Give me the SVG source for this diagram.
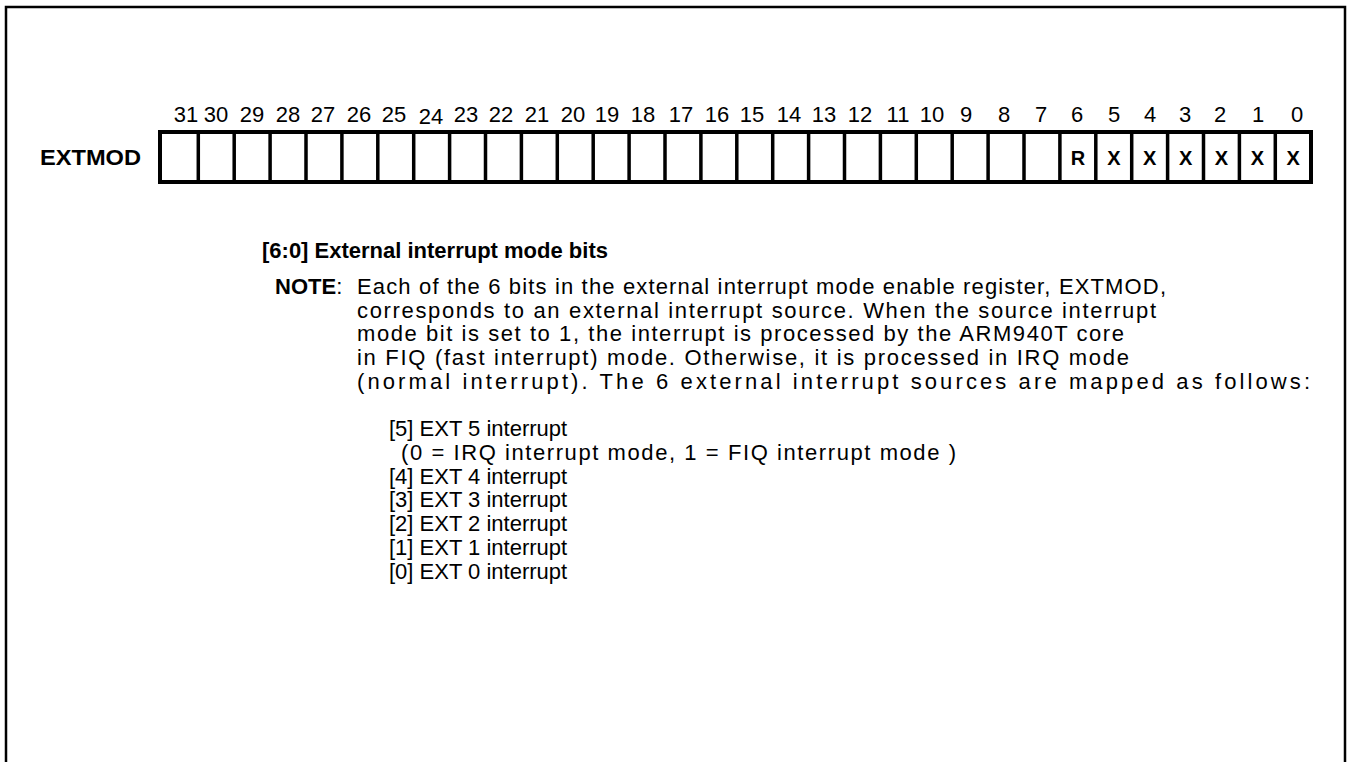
<svg xmlns="http://www.w3.org/2000/svg" width="1353" height="762" viewBox="0 0 1353 762">
<style>
.t{font-family:"Liberation Sans",Arial,sans-serif;fill:#000}
.n{font-size:22px;text-anchor:middle}
.b{font-weight:bold}
.c{font-size:20px;font-weight:bold;text-anchor:middle}
.p{font-size:22px}
.cell{fill:none;stroke:#000;stroke-width:3.5}
</style>
<rect width="1353" height="762" fill="#fff"/>
<path d="M6,762 V7 H1345 V762" fill="none" stroke="#000" stroke-width="2.5"/>
<g id="register">
<rect x="160" y="132" width="1151" height="50" fill="#fff" stroke="#000" stroke-width="4"/>
<path class="cell" d="M198.3,132V182M234.2,132V182M270.1,132V182M306,132V182M341.9,132V182M377.8,132V182M413.7,132V182M449.6,132V182M485.5,132V182M521.4,132V182M557.3,132V182M593.2,132V182M629.1,132V182M665,132V182M700.9,132V182M736.8,132V182M772.7,132V182M808.6,132V182M844.5,132V182M880.4,132V182M916.3,132V182M952.2,132V182M988.1,132V182M1024,132V182M1059.9,132V182M1095.8,132V182M1131.7,132V182M1167.6,132V182M1203.5,132V182M1239.4,132V182M1275.3,132V182"/>
<text class="t b" x="40" y="165" font-size="22" textLength="101" lengthAdjust="spacingAndGlyphs">EXTMOD</text>
<g class="t c">
<text x="1077.9" y="165">R</text>
<text x="1113.8" y="165">X</text>
<text x="1149.7" y="165">X</text>
<text x="1185.6" y="165">X</text>
<text x="1221.5" y="165">X</text>
<text x="1257.4" y="165">X</text>
<text x="1293.2" y="165">X</text>
</g>
</g>
<g id="bit-numbers" class="t n">
<text x="186" y="122">31</text>
<text x="216" y="122">30</text>
<text x="252" y="122">29</text>
<text x="288" y="122">28</text>
<text x="323" y="122">27</text>
<text x="359" y="122">26</text>
<text x="394" y="122">25</text>
<text x="431" y="124">24</text>
<text x="466" y="122">23</text>
<text x="501" y="122">22</text>
<text x="537" y="122">21</text>
<text x="573" y="122">20</text>
<text x="607" y="122">19</text>
<text x="643" y="122">18</text>
<text x="681" y="122">17</text>
<text x="717" y="122">16</text>
<text x="752" y="122">15</text>
<text x="789" y="122">14</text>
<text x="824" y="122">13</text>
<text x="860" y="122">12</text>
<text x="898" y="122">11</text>
<text x="932" y="122">10</text>
<text x="966" y="122">9</text>
<text x="1004" y="122">8</text>
<text x="1041" y="122">7</text>
<text x="1077" y="122">6</text>
<text x="1114" y="122">5</text>
<text x="1150" y="122">4</text>
<text x="1185" y="122">3</text>
<text x="1220" y="122">2</text>
<text x="1258" y="122">1</text>
<text x="1297" y="122">0</text>
</g>
<g id="description" class="t p">
<text class="b" x="262" y="258" font-size="22">[6:0] External interrupt mode bits</text>
<text x="275" y="294"><tspan class="b">NOTE</tspan>:</text>
<text x="357" y="294" textLength="809" lengthAdjust="spacing">Each of the 6 bits in the external interrupt mode enable register, EXTMOD,</text>
<text x="357" y="318" textLength="799" lengthAdjust="spacing">corresponds to an external interrupt source. When the source interrupt</text>
<text x="357" y="341" textLength="767" lengthAdjust="spacing">mode bit is set to 1, the interrupt is processed by the ARM940T core</text>
<text x="357" y="365" textLength="772" lengthAdjust="spacing">in FIQ (fast interrupt) mode. Otherwise, it is processed in IRQ mode</text>
<text x="357" y="389" textLength="953" lengthAdjust="spacing">(normal interrupt). The 6 external interrupt sources are mapped as follows:</text>
<text x="389" y="436">[5] EXT 5 interrupt</text>
<text x="401" y="460" textLength="555" lengthAdjust="spacing">(0 = IRQ interrupt mode, 1 = FIQ interrupt mode )</text>
<text x="389" y="484">[4] EXT 4 interrupt</text>
<text x="389" y="507">[3] EXT 3 interrupt</text>
<text x="389" y="531">[2] EXT 2 interrupt</text>
<text x="389" y="555">[1] EXT 1 interrupt</text>
<text x="389" y="579">[0] EXT 0 interrupt</text>
</g>
</svg>
